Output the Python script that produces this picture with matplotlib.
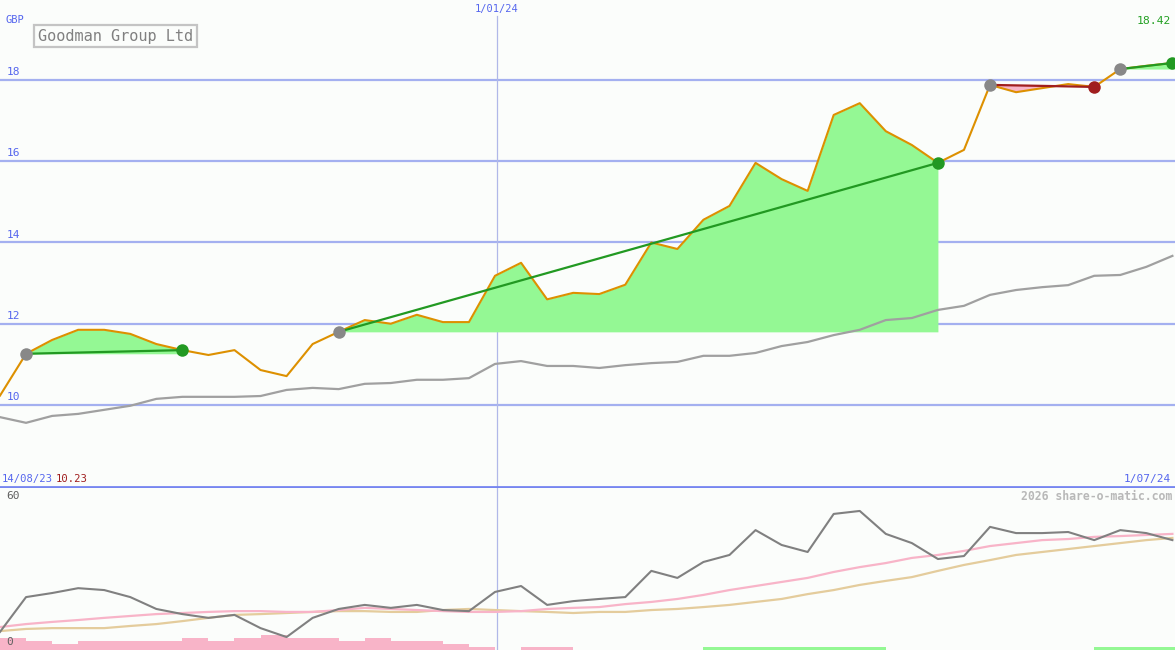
import numpy as np
import matplotlib
matplotlib.use('Agg')
import matplotlib.pyplot as plt

# weekly closes, 14/08/23 .. 1/07/24
price = [10.23, 11.26, 11.60, 11.85, 11.85, 11.75, 11.50, 11.35, 11.23, 11.35,
         10.86, 10.71, 11.50, 11.80, 12.09, 12.00, 12.22, 12.04, 12.04, 13.18,
         13.50, 12.60, 12.76, 12.73, 12.96, 14.00, 13.84, 14.56, 14.90, 15.96,
         15.56, 15.27, 17.14, 17.43, 16.74, 16.40, 15.96, 16.28, 17.88, 17.70,
         17.80, 17.90, 17.83, 18.27, 18.35, 18.42]
ma = [9.70, 9.56, 9.73, 9.78, 9.88, 9.98, 10.15, 10.20, 10.20, 10.20,
      10.22, 10.37, 10.42, 10.39, 10.52, 10.54, 10.62, 10.62, 10.66, 11.01,
      11.08, 10.96, 10.96, 10.91, 10.98, 11.03, 11.06, 11.21, 11.21, 11.28,
      11.45, 11.55, 11.72, 11.85, 12.09, 12.14, 12.34, 12.44, 12.71, 12.83,
      12.90, 12.95, 13.18, 13.20, 13.40, 13.67]
# trades: (start week, end week)
trades = [(1, 7), (13, 36), (38, 42), (43, 45)]

# lower panel
osc = [6.7, 19.6, 21.1, 22.9, 22.2, 19.6, 15.2, 13.3, 11.9, 13.0,
       8.1, 4.8, 11.9, 15.2, 16.7, 15.6, 16.7, 14.8, 14.4, 21.5,
       23.7, 16.7, 18.1, 18.9, 19.6, 29.3, 26.7, 32.6, 35.2, 44.4,
       38.9, 36.3, 50.4, 51.5, 43.0, 39.6, 33.7, 34.8, 45.6, 43.3,
       43.3, 43.7, 40.7, 44.4, 43.3, 40.7]
osc_fast = [8.5, 9.6, 10.4, 11.1, 11.9, 12.6, 13.3, 13.7, 14.1, 14.4,
            14.4, 14.1, 14.1, 14.8, 15.6, 15.2, 14.8, 14.4, 14.1, 14.1,
            14.4, 15.2, 15.6, 15.9, 17.0, 17.8, 18.9, 20.4, 22.2, 23.7,
            25.2, 26.7, 28.9, 30.7, 32.2, 34.1, 35.2, 36.7, 38.5, 39.6,
            40.7, 41.1, 41.9, 42.2, 42.6, 43.0]
osc_slow = [7.0, 7.8, 8.1, 8.1, 8.1, 8.9, 9.6, 10.7, 11.9, 13.0,
            13.3, 13.7, 14.1, 14.4, 14.4, 14.1, 14.1, 14.8, 15.2, 14.8,
            14.4, 14.1, 13.7, 14.1, 14.1, 14.8, 15.2, 15.9, 16.7, 17.8,
            18.9, 20.7, 22.2, 24.1, 25.6, 27.0, 29.3, 31.5, 33.3, 35.2,
            36.3, 37.4, 38.5, 39.6, 40.7, 41.5]
hist = [-4.5, -3.3, -2.2, -3.3, -3.3, -3.3, -3.3, -4.5, -3.3, -4.5,
        -5.4, -4.5, -4.5, -3.3, -4.5, -3.3, -3.3, -2.2, -1.1, 0.0,
        -1.1, -1.1, 0.0, 0.0, 0.0, 0.0, 0.0, 1.1, 1.1, 1.1,
        1.1, 1.1, 1.1, 1.1, 0.0, 0.0, 0.0, 0.0, 0.0, 0.0,
        0.0, 0.0, 1.1, 1.1, 1.1, 1.1]
grid_levels = [10, 12, 14, 16, 18]
year_mark = 19.08

BG = '#fbfdfb'
BLUE = '#5566ee'
GRID = '#a4b0f0'
ORANGE = '#dd9000'
LGREEN = '#94f894'
DGREEN = '#229922'
DRED = '#a01e1e'
PINK = '#f8b4c8'
MONO = 'DejaVu Sans Mono'

x = np.arange(len(price))
price = np.array(price)

fig = plt.figure(figsize=(11.75, 6.5), dpi=100, facecolor=BG)
ax = fig.add_axes([0, 1 - 487 / 650, 1, 487 / 650], facecolor=BG)
ax2 = fig.add_axes([0, 0, 1, 162 / 650], facecolor=BG)

# price panel
for lv in grid_levels:
    ax.axhline(lv, color=GRID, lw=1.6, zorder=1)
    ax.text(0.25, lv + 0.07, str(lv), color=BLUE, fontsize=8,
            family=MONO, va='bottom', ha='left')
ax.axvline(year_mark, ymax=0.968, color='#b0b8e8', lw=0.9, zorder=1)

for a, b in trades:
    xs = x[a:b + 1]
    ys = price[a:b + 1]
    base = price[a]
    ax.fill_between(xs, ys, base, where=ys >= base, interpolate=True,
                    color=LGREEN, lw=0, zorder=2)
    ax.fill_between(xs, ys, base, where=ys <= base, interpolate=True,
                    color=PINK, lw=0, zorder=2)

ax.plot(x, ma, color='#a0a0a0', lw=1.6, zorder=3)
ax.plot(x, price, color=ORANGE, lw=1.5, zorder=4)

for a, b in trades:
    c = DGREEN if price[b] >= price[a] else DRED
    ax.plot([a, b], [price[a], price[b]], color=c, lw=1.6, zorder=5)
    ax.plot(a, price[a], 'o', color='#888888', ms=9, mec='none', zorder=6)
    ax.plot(b, price[b], 'o', color=c, ms=9, mec='none', zorder=6)

ax.set_xlim(0, 45.1)
ax.set_ylim(7.98, 19.97)
ax.set_xticks([])
ax.set_yticks([])
for s in ['top', 'left', 'right']:
    ax.spines[s].set_visible(False)
ax.spines['bottom'].set_color('#7686f0')
ax.spines['bottom'].set_linewidth(2)

# lower panel
ax2.bar(x, np.abs(hist), width=1.0, align='edge',
        color=[LGREEN if h > 0 else PINK for h in hist], lw=0, zorder=1)
ax2.plot(x, osc_slow, color='#e4cc9c', lw=1.6, zorder=2)
ax2.plot(x, osc_fast, color='#f8b4c8', lw=1.6, zorder=3)
ax2.plot(x, osc, color='#808080', lw=1.5, zorder=4)
ax2.axvline(year_mark, color='#b0b8e8', lw=0.9, zorder=0)
ax2.set_xlim(0, 45.1)
ax2.set_ylim(0, 60)
ax2.set_xticks([])
ax2.set_yticks([])
for s in ax2.spines.values():
    s.set_visible(False)


def ftext(px, py, s, **kw):
    fig.text(px / 1175, 1 - py / 650, s, family=MONO, **kw)


ftext(5, 20, 'GBP', color=BLUE, fontsize=7.5, va='center')
ftext(497, 9, '1/01/24', color=BLUE, fontsize=7.5, va='center', ha='center')
ftext(1171, 21, '18.42', color='#22a022', fontsize=8.2, va='center', ha='right')
ftext(38, 36, 'Goodman Group Ltd', color='#808080', fontsize=11, va='center',
      bbox=dict(boxstyle='square,pad=0.25', fc=BG, ec='#c4c4c4', lw=1.6))
ftext(2, 479, '14/08/23', color=BLUE, fontsize=7.6, va='center')
ftext(56, 479, '10.23', color=DRED, fontsize=7.6, va='center')
ftext(1171, 479, '1/07/24', color=BLUE, fontsize=8, va='center', ha='right')
ftext(1172, 496, '2026 share-o-matic.com', color='#b8b8b8', fontsize=8.3,
      va='center', ha='right', weight='bold')
ftext(6, 496, '60', color='#606060', fontsize=8, va='center')
ftext(6, 642, '0', color='#606060', fontsize=8, va='center')

fig.savefig('out.png', dpi=100, facecolor=BG)
